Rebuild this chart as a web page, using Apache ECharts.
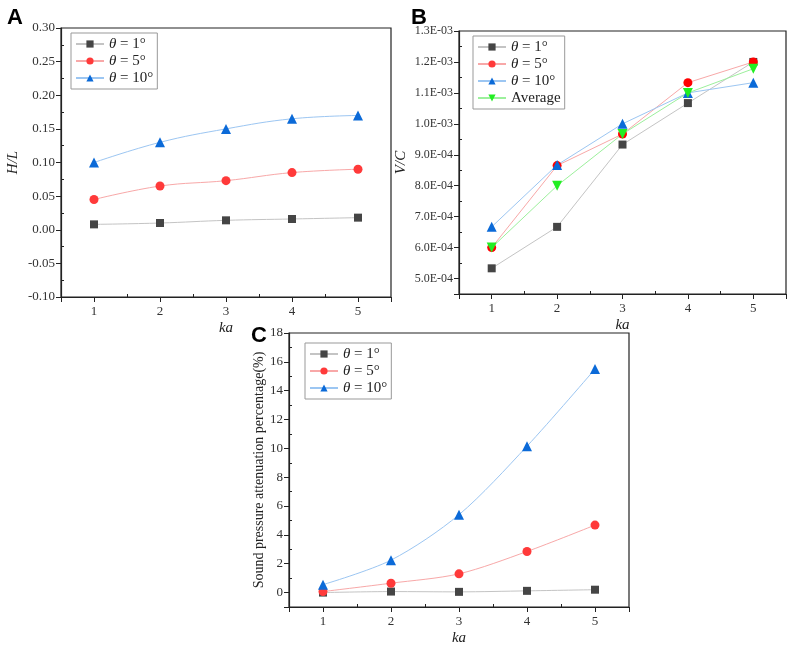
<!DOCTYPE html>
<html>
<head>
<meta charset="utf-8">
<title>ka panels</title>
<script src="https://cdn.jsdelivr.net/npm/echarts@6/dist/echarts.min.js"></script>
<style>
  html, body { margin: 0; padding: 0; background: #fff; }
  #main { width: 789px; height: 648px; }
</style>
</head>
<body>
<div id="main"></div>
<script>
// x values shared by every panel
var ka = [1, 2, 3, 4, 5];

// panel A: H/L
var hl1 = [0.008, 0.010, 0.014, 0.016, 0.018];
var hl5 = [0.045, 0.065, 0.073, 0.085, 0.090];
var hl10 = [0.100, 0.130, 0.150, 0.165, 0.170];

// panel B: V/C
var vc1 = [5.33e-4, 6.67e-4, 9.33e-4, 1.067e-3, 1.200e-3];
var vc5 = [6.00e-4, 8.65e-4, 9.67e-4, 1.133e-3, 1.200e-3];
var vc10 = [6.67e-4, 8.67e-4, 1.000e-3, 1.100e-3, 1.133e-3];
var vcAvg = [6.00e-4, 8.00e-4, 9.67e-4, 1.100e-3, 1.178e-3];

// panel C: sound pressure attenuation (%)
var sp1 = [0.00, 0.07, 0.05, 0.12, 0.20];
var sp5 = [0.07, 0.65, 1.30, 2.85, 4.68];
var sp10 = [0.55, 2.25, 5.40, 10.15, 15.50];

var legendNames = { t1: '{i|θ} = 1°', t5: '{i|θ} = 5°', t10: '{i|θ} = 10°', avg: 'Average' };

var serif = 'Liberation Serif';
var dark = '#222';

function pairs(ys) {
  return ka.map(function (x, i) { return [x, ys[i]]; });
}

function sciLabel(v) {
  var k = v * 1e4;
  if (Math.abs(k - Math.round(k)) > 1e-6) return '';
  var p = v.toExponential(1).split('e');
  var ex = parseInt(p[1], 10);
  var s = ex < 0 ? '-' : '+';
  ex = Math.abs(ex);
  return p[0] + 'E' + s + (ex < 10 ? '0' + ex : ex);
}

function xAx(gi) {
  return {
    type: 'value', gridIndex: gi, min: 0.5, max: 5.5, splitNumber: 5,
    name: 'ka', nameLocation: 'middle', nameGap: 24,
    nameTextStyle: { fontFamily: serif, fontStyle: 'italic', fontSize: 15, color: dark },
    axisLine: { onZero: false, lineStyle: { color: dark, width: 1.2 } },
    axisTick: { show: true, length: 5, lineStyle: { color: dark } },
    minorTick: { show: true, splitNumber: 2, length: -3, lineStyle: { color: dark } },
    axisLabel: { fontFamily: serif, fontSize: 13, color: '#333', margin: 8, showMinLabel: false, showMaxLabel: false },
    splitLine: { show: false }
  };
}

function yAx(gi, extra) {
  var a = {
    type: 'value', gridIndex: gi,
    nameLocation: 'middle', nameRotate: 90,
    nameTextStyle: { fontFamily: serif, fontStyle: 'italic', fontSize: 15, color: dark },
    axisLine: { show: true, onZero: false, lineStyle: { color: dark, width: 1.2 } },
    axisTick: { show: true, length: 5, lineStyle: { color: dark } },
    minorTick: { show: true, splitNumber: 2, length: -3, lineStyle: { color: dark } },
    splitLine: { show: false }
  };
  for (var k in extra) a[k] = extra[k];
  return a;
}

function legend(left, top, names) {
  return {
    left: left, top: top, orient: 'vertical',
    data: names,
    itemWidth: 28, itemHeight: 9, itemGap: 1,
    padding: [3, 4, 3, 4],
    borderColor: '#999', borderWidth: 1,
    formatter: function (n) { return legendNames[n]; },
    textStyle: {
      fontFamily: serif, fontSize: 15, color: dark, lineHeight: 16,
      rich: { i: { fontFamily: serif, fontStyle: 'italic', fontSize: 15, color: dark } }
    }
  };
}

var styles = {
  t1: { symbol: 'rect', symbolSize: 8, color: '#454545', line: '#c4c4c4' },
  t5: { symbol: 'circle', symbolSize: 9, color: '#ff3a3a', line: '#f8a8a8' },
  t10: { symbol: 'triangle', symbolSize: 10, color: '#0b6ad8', line: '#9cc6f2' },
  avg: { symbol: 'triangle', symbolRotate: 180, symbolSize: 10, color: '#22ee22', line: '#9cf09c' }
};

function line(name, ys, gi, smooth, colorOverride) {
  var st = styles[name];
  return {
    name: name, type: 'line', xAxisIndex: gi, yAxisIndex: gi,
    data: pairs(ys), smooth: smooth,
    symbol: st.symbol, symbolSize: st.symbolSize, symbolRotate: st.symbolRotate || 0,
    showAllSymbol: true,
    itemStyle: { color: colorOverride || st.color },
    lineStyle: { color: st.line, width: 1 },
    emphasis: { disabled: true },
    animation: false
  };
}

var labelStyle = { fontFamily: serif, fontSize: 13, color: '#333', margin: 6 };

var chart = echarts.init(document.getElementById('main'), null, { renderer: 'canvas' });

var option = {
  backgroundColor: '#fff',
  animation: false,
  title: [
    { text: 'A', left: 2, top: 2, textStyle: { fontFamily: 'Liberation Sans', fontWeight: 'bold', fontSize: 22, color: '#000' } },
    { text: 'B', left: 406, top: 2, textStyle: { fontFamily: 'Liberation Sans', fontWeight: 'bold', fontSize: 22, color: '#000' } },
    { text: 'C', left: 246, top: 320, textStyle: { fontFamily: 'Liberation Sans', fontWeight: 'bold', fontSize: 22, color: '#000' } }
  ],
  grid: [
    { left: 61, top: 28, width: 330, height: 269, show: true, borderColor: dark, borderWidth: 1.2 },
    { left: 459, top: 31, width: 327, height: 263, show: true, borderColor: dark, borderWidth: 1.2 },
    { left: 289, top: 333, width: 340, height: 274, show: true, borderColor: dark, borderWidth: 1.2 }
  ],
  xAxis: [xAx(0), xAx(1), xAx(2)],
  yAxis: [
    yAx(0, { min: -0.1, max: 0.3, interval: 0.05, name: 'H/L', nameGap: 40,
      axisLabel: Object.assign({ formatter: function (v) { return v.toFixed(2); } }, labelStyle) }),
    yAx(1, { min: 4.5e-4, max: 1.3e-3, splitNumber: 8, name: 'V/C', nameGap: 50,
      axisLabel: Object.assign({ showMinLabel: false, formatter: sciLabel, fontSize: 12 }, labelStyle, { fontSize: 12 }) }),
    yAx(2, { min: -1, max: 18, splitNumber: 9, name: 'Sound pressure attenuation percentage(%)', nameGap: 23,
      nameTextStyle: { fontFamily: serif, fontSize: 14, color: dark },
      axisLabel: Object.assign({ showMinLabel: false }, labelStyle) })
  ],
  legend: [
    legend(71, 33, ['t1', 't5', 't10']),
    legend(473, 36, ['t1', 't5', 't10', 'avg']),
    legend(305, 343, ['t1', 't5', 't10'])
  ],
  series: [
    line('t1', hl1, 0, 0.4),
    line('t5', hl5, 0, 0.4),
    line('t10', hl10, 0, 0.4),
    line('t1', vc1, 1, false),
    line('t5', vc5, 1, false, '#ff0000'),
    line('t10', vc10, 1, false),
    line('avg', vcAvg, 1, false),
    line('t1', sp1, 2, 0.3),
    line('t5', sp5, 2, 0.3),
    line('t10', sp10, 2, 0.3)
  ]
};

chart.setOption(option);
</script>
</body>
</html>
